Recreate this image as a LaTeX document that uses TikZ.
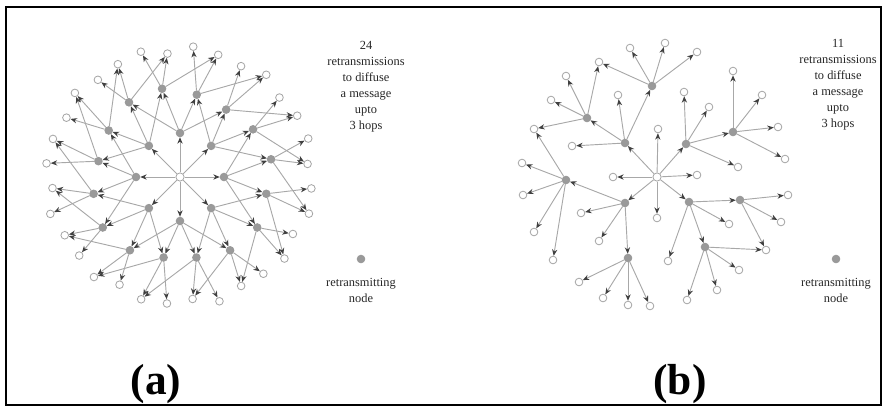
\documentclass[tikz,border=0pt]{standalone}
\usepackage{fontspec}
\setmainfont{Liberation Serif}
\usepackage{tikz}
\usetikzlibrary{arrows.meta,backgrounds}
\definecolor{edge}{HTML}{A8A8A8}
\definecolor{relayfill}{HTML}{9A9A9A}

\begin{document}
\begin{tikzpicture}[
  x=0.017cm,y=-0.017cm,
  src/.style={circle,draw=gray!70,fill=white,minimum size=1.4mm,inner sep=0pt,line width=0.4pt},
  leaf/.style={circle,draw=gray!70,fill=white,minimum size=1.3mm,inner sep=0pt,line width=0.4pt},
  relay/.style={circle,draw=gray!80,fill=relayfill,minimum size=1.3mm,inner sep=0pt,line width=0.4pt},
  link/.style={-{Stealth[length=1.1mm,width=0.9mm,color=black!75]},draw=edge,line width=0.45pt},
  note/.style={align=center,text=black!85,font=\fontsize{6}{7.7}\selectfont},
  caption/.style={font=\fontsize{21}{24}\selectfont\bfseries}
]
  \useasboundingbox (0,0) rectangle (885,408);
  \draw[line width=1pt] (6,7) rectangle (881,405);

  % (a) flooding
  \node[src] (a0) at (180,177) {};
  \foreach \i in {0,...,7}{
    \node[relay] (a1-\i) at ({180+44*cos(45*\i)},{177+44*sin(45*\i)}) {};
  }
  \foreach \j in {0,...,15}{
    \node[relay] (a2-\j) at ({180+(88+5*sin(77*\j))*cos(22.5*\j+11.25)},{177+(86+5*sin(77*\j))*sin(22.5*\j+11.25)}) {};
  }
  \foreach \k in {0,...,31}{
    \node[leaf] (a3-\k) at ({180+(132+4*sin(137*\k))*cos(11.25*\k+5.625)},{176+(127+4*sin(137*\k))*sin(11.25*\k+5.625)}) {};
  }
  \begin{scope}[on background layer]
    \foreach \i in {0,...,7}{
      \draw[link] (a0) -- (a1-\i);
    }
    \foreach \i in {0,...,7}
      \foreach \d in {-2,-1,0,1}{
        \pgfmathtruncatemacro\j{mod(2*\i+\d+16,16)}
        \draw[link] (a1-\i) -- (a2-\j);
      }
    \foreach \j in {0,...,15}
      \foreach \d in {0,1,3}{
        \pgfmathtruncatemacro\k{mod(2*\j+\d,32)}
        \draw[link] (a2-\j) -- (a3-\k);
      }
  \end{scope}

  \node[note] (txa) at (366,87) {24\\retransmissions\\to diffuse\\a message\\upto\\3 hops};
  \node[relay] (keya) at (361,259) {};
  \node[note] (lga) at (361,290) {retransmitting\\node};
  \node[caption] (capa) at (156,384) {(a)};

  % (b) relays
  \node[src] (b0) at (657,177) {};
  \foreach \n/\x/\y in {bw1/613/177,bw2/697/175,bw3/658/129,bw4/657/218}
    \node[leaf] (\n) at (\x,\y) {};
  \foreach \n/\x/\y in {bm1/625/143,bm2/686/144,bm3/625/203,bm4/689/202,
      bn1/652/86,bn2/587/118,bn3/566/180,bn4/733/132,bn5/740/200,bn6/705/247,bn7/628/258}
    \node[relay] (\n) at (\x,\y) {};
  \foreach \n/\x/\y in {bv1/572/146,bv2/618/95,bv3/684/92,bv4/709/107,bv5/738/167,
      bv6/729/224,bv7/668/261,bv8/581/213,bv9/599/241,
      bt1/630/48,bt2/665/43,bt3/697/52,bt4/599/62,bt5/566/76,bt6/551/100,bt7/534/129,
      bt8/522/163,bt9/523/195,bt10/534/232,bt11/553/260,
      bt12/579/282,bt13/603/298,bt14/628/305,bt15/650/306,
      bt16/687/300,bt17/717/290,bt18/739/270,bt19/766/250,
      bt20/781/222,bt21/788/195,bt22/733/71,bt23/762/95,bt24/778/127,bt25/785/159}
    \node[leaf] (\n) at (\x,\y) {};
  \begin{scope}[on background layer]
    \foreach \s/\t in {b0/bm1,b0/bm2,b0/bm3,b0/bm4,b0/bw1,b0/bw2,b0/bw3,b0/bw4,
        bm1/bn1,bm1/bn2,bm1/bv1,bm1/bv2,
        bm2/bn4,bm2/bv3,bm2/bv4,bm2/bv5,
        bm3/bn3,bm3/bn7,bm3/bv8,bm3/bv9,
        bm4/bn5,bm4/bn6,bm4/bv6,bm4/bv7,
        bn1/bt1,bn1/bt2,bn1/bt3,bn1/bt4,
        bn2/bt4,bn2/bt5,bn2/bt6,bn2/bt7,
        bn3/bt7,bn3/bt8,bn3/bt9,bn3/bt10,bn3/bt11,
        bn7/bt12,bn7/bt13,bn7/bt14,bn7/bt15,
        bn6/bt16,bn6/bt17,bn6/bt18,bn6/bt19,
        bn5/bt19,bn5/bt20,bn5/bt21,
        bn4/bt22,bn4/bt23,bn4/bt24,bn4/bt25}
      \draw[link] (\s) -- (\t);
  \end{scope}

  \node[note] (txb) at (838,85) {11\\retransmissions\\to diffuse\\a message\\upto\\3 hops};
  \node[relay] (keyb) at (836,259) {};
  \node[note] (lgb) at (836,290) {retransmitting\\node};
  \node[caption] (capb) at (680,384) {(b)};
\end{tikzpicture}
\end{document}
